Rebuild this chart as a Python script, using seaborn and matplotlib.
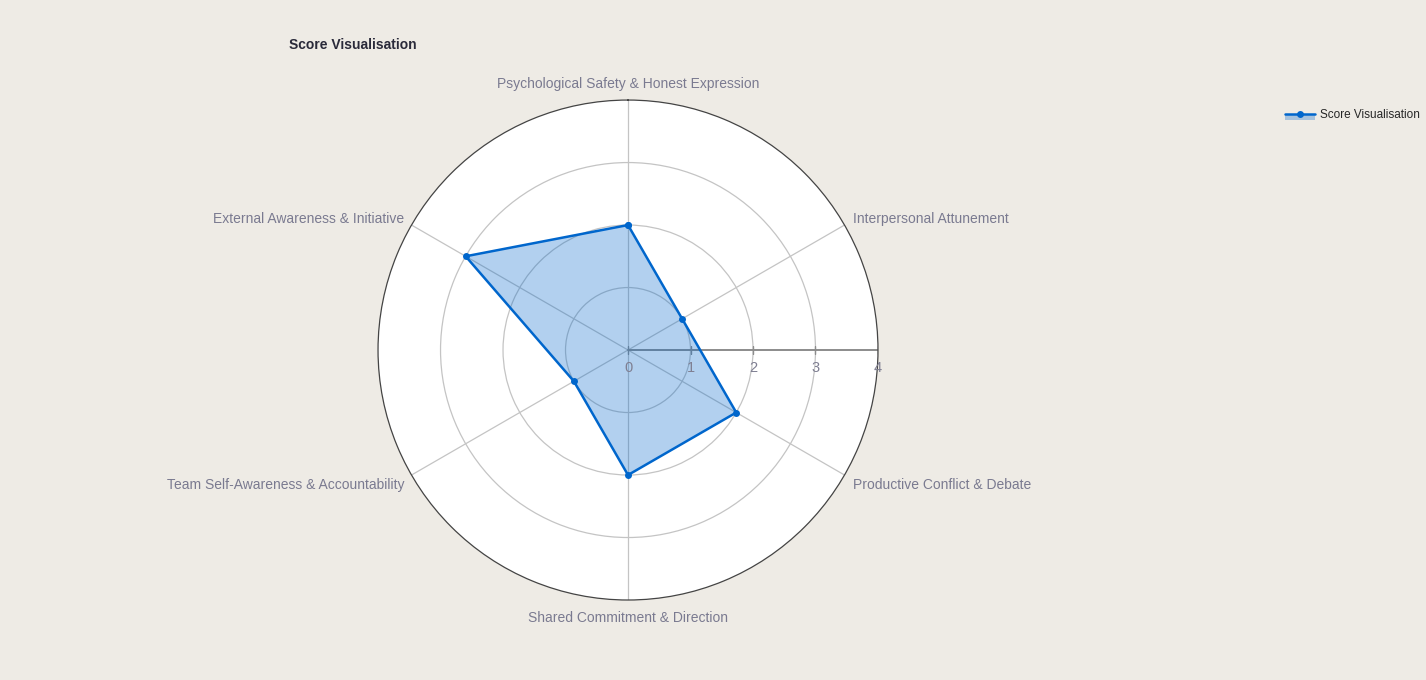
import numpy as np
import pandas as pd
import matplotlib
matplotlib.use('Agg')
import matplotlib.pyplot as plt
import seaborn as sns
from matplotlib.lines import Line2D
from matplotlib.patches import Rectangle

categories = [
    'Psychological Safety & Honest Expression',
    'Interpersonal Attunement',
    'Productive Conflict & Debate',
    'Shared Commitment & Direction',
    'Team Self-Awareness & Accountability',
    'External Awareness & Initiative',
]
scores = [2, 1, 2, 2, 1, 3]
r_ticks = [0, 1, 2, 3, 4]
series_name = 'Score Visualisation'

bg = '#eeebe5'
line_col = '#0066cc'
label_col = '#7a7a90'

sns.set_theme(style='white')
plt.rcParams['font.family'] = ['Liberation Sans', 'DejaVu Sans']

angles = np.linspace(0, 2 * np.pi, len(categories), endpoint=False)
df = pd.DataFrame({'theta': np.append(angles, 2 * np.pi),
                   'score': scores + scores[:1]})

fig = plt.figure(figsize=(14.26, 6.8), dpi=100, facecolor=bg)
ax = fig.add_axes([0.2651, 0.1176, 0.3506, 0.7353], projection='polar')
ax.set_facecolor('white')
ax.set_theta_offset(np.pi / 2)
ax.set_theta_direction(-1)
ax.set_ylim(0, 4)

# grid
ax.set_xticks(angles)
ax.set_xticklabels([])
ax.set_yticks(r_ticks[1:-1])
ax.set_yticklabels([])
ax.grid(True, color='#c4c4c4', linewidth=0.9)
ax.spines['polar'].set_color('#444444')
ax.spines['polar'].set_linewidth(0.9)

# radial axis along the east direction
east = np.pi / 2
ax.plot([east, east], [0, 4], color='#8c8c8c', linewidth=1.4, zorder=1)
ax.plot([east] * len(r_ticks), r_ticks, linestyle='none', marker='|',
        markersize=6, color='#8c8c8c', zorder=1)
for r in r_ticks:
    ax.annotate(str(r), xy=(east, r), xytext=(0, -13), textcoords='offset points',
                ha='center', va='center', fontsize=10.5, color='#7f7f92')

# data
ax.fill(df['theta'], df['score'], color=line_col, alpha=0.3, zorder=2, linewidth=0)
sns.lineplot(data=df, x='theta', y='score', sort=False, estimator=None, ax=ax,
             color=line_col, linewidth=1.8, marker='o', markersize=5,
             markeredgewidth=0, zorder=3)
ax.set_xlabel('')
ax.set_ylabel('')

# category labels
for a, name in zip(angles, categories):
    s = np.sin(a)
    c = np.cos(a)
    if abs(s) < 0.01:
        ha, dx = 'center', 0
        dy = 11.5 if c > 0 else -13
    else:
        ha = 'left' if s > 0 else 'right'
        dx = 6.4 if s > 0 else -5
        dy = 4.5 if c > 0 else -7.5
    ax.annotate(name, xy=(a, 4), xytext=(dx, dy), textcoords='offset points',
                ha=ha, va='center', fontsize=10, color=label_col,
                annotation_clip=False)

fig.text(289 / 1426, 1 - 45 / 680, 'Score Visualisation', fontsize=10,
         fontweight='bold', color='#2a2a3a', ha='left', va='center')


class LineFillHandler:
    def legend_artist(self, legend, orig_handle, fontsize, handlebox):
        x0, y0 = handlebox.xdescent, handlebox.ydescent
        w, h = handlebox.width, handlebox.height
        tr = handlebox.get_transform()
        ymid = y0 + h / 2
        rect = Rectangle((x0, ymid - 4.5), w, 4.5, facecolor=line_col,
                         alpha=0.3, linewidth=0, transform=tr)
        ln = Line2D([x0, x0 + w], [ymid, ymid], color=line_col,
                    linewidth=1.8, transform=tr)
        mk = Line2D([x0 + w / 2], [ymid], color=line_col, marker='o',
                    markersize=5, markeredgewidth=0, transform=tr)
        handlebox.add_artist(rect)
        handlebox.add_artist(ln)
        handlebox.add_artist(mk)
        return ln


proxy = Line2D([], [], color=line_col)
fig.legend([proxy], [series_name], loc='center left',
           bbox_to_anchor=(1274 / 1426, 1 - 115 / 680), frameon=False,
           fontsize=8.5, handlelength=2.6, handletextpad=0.4,
           handler_map={Line2D: LineFillHandler()})

fig.savefig('out.png', dpi=100, facecolor=bg)
